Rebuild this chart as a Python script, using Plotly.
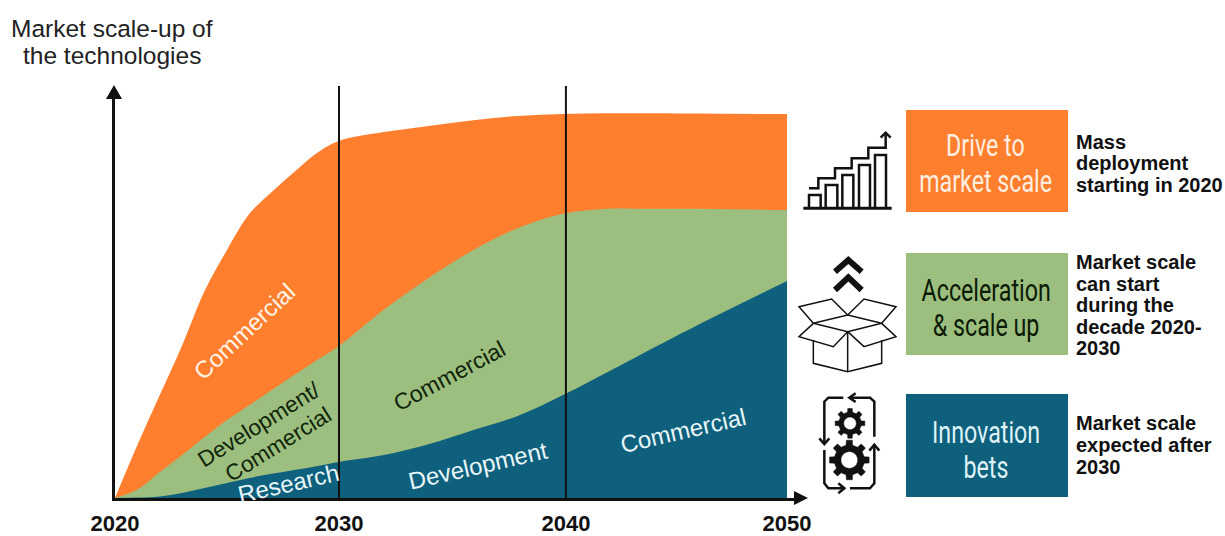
import math
import plotly.graph_objects as go

W, H = 1225, 536
years = [2020, 2021, 2022, 2023, 2024, 2025, 2026, 2027, 2028, 2029, 2030, 2032, 2034, 2036, 2038, 2040, 2042, 2044, 2046, 2050]
top_curve = [0, 13.8, 26.8, 39.8, 53.9, 64.6, 74, 79.7, 84.9, 89.8, 93, 95.3, 96.9, 98.4, 99.5, 100, 100.2, 100.2, 100.1, 100]
middle_curve = [0, 2.2, 6.8, 11.2, 15.9, 20.3, 24.2, 28.1, 32, 35.9, 39.6, 49, 57.3, 64.6, 70.3, 74, 75.3, 75.3, 75.3, 75]
bottom_curve = [0, 0.1, 0.4, 1.3, 2.6, 3.9, 5.2, 6.3, 7.3, 8.3, 9.4, 11.2, 14, 17.7, 21.4, 26.8, 32.8, 39, 45, 56.5]
tick_years = [2020, 2030, 2040, 2050]
tick_pos = [2020, 2030, 2040.13, 2050]
marker_years = [2030, 2040.13]

ORANGE, GREEN, BLUE = "#FF7F2E", "#9CBE7E", "#0E607C"
FONT = "Liberation Sans"
BOX_FONT = "Roboto"

fig = go.Figure()
for vals, col, name in [(top_curve, ORANGE, "Drive to market scale"),
                        (middle_curve, GREEN, "Acceleration & scale up"),
                        (bottom_curve, BLUE, "Innovation bets")]:
    fig.add_trace(go.Scatter(x=years, y=vals, mode="lines", fill="tozeroy", name=name,
                             fillcolor=col, line=dict(color=col, width=0, shape="spline", smoothing=1.0)))

def px(x): return x / W
def py(y): return 1 - y / H
def path(pts, close=False):
    return "M" + " L".join(f"{px(x):.5f},{py(y):.5f}" for x, y in pts) + (" Z" if close else "")
shapes = []
def add(pts, close=False, fill=None, lw=2, color="#111"):
    shapes.append(dict(type="path", xref="paper", yref="paper", path=path(pts, close),
                       fillcolor=fill if fill else "rgba(0,0,0,0)",
                       line=dict(color=color, width=lw), layer="above"))
def z(x, y): return (790 + x / 3, 100 + y / 3)
def zadd(pts, close=False, fill=None, lw=2, color="#111"):
    add([z(*p) for p in pts], close, fill, lw, color)

for yr in marker_years:
    shapes.append(dict(type="line", xref="x", yref="paper", x0=yr, x1=yr, y0=py(498), y1=py(86),
                       line=dict(color="#111", width=2), layer="above"))
add([(114, 85), (106, 99), (122, 99)], True, "#111", 0)
add([(808, 498), (794, 491), (794, 505)], True, "#111", 0)

for (y0, y1), col in zip([(110, 212), (253, 355), (394, 497)], [ORANGE, GREEN, BLUE]):
    add([(906, y0), (1068, y0), (1068, y1), (906, y1)], True, col, 0)

zadd([(40, 325), (305, 325)], lw=3)
for a, b, t in [(57, 92, 285), (107, 142, 255), (157, 190, 225), (207, 240, 195), (255, 288, 165)]:
    zadd([(a, 325), (a, t), (b, t), (b, 325)], lw=2.5)
zadd([(57, 265), (85, 265), (85, 235), (135, 235), (135, 205), (185, 205), (185, 175), (235, 175),
      (235, 143), (287, 143), (287, 100)], lw=2.5)
zadd([(272, 113), (287, 98), (302, 113)], lw=2.5)

zadd([(70, 720), (70, 790), (173, 815), (275, 790), (275, 720)], lw=1.5)
zadd([(173, 695), (173, 815)], lw=1.5)
zadd([(70, 670), (173, 645), (275, 670), (173, 695)], True, lw=1.5)
zadd([(173, 695), (130, 740), (27, 710), (70, 670)], lw=1.5)
zadd([(173, 695), (222, 740), (318, 710), (275, 670)], lw=1.5)
zadd([(70, 670), (27, 620), (125, 597), (173, 645)], lw=1.5)
zadd([(173, 645), (222, 597), (318, 620), (275, 670)], lw=1.5)
zadd([(135, 515), (175, 480), (215, 515)], lw=6)
zadd([(135, 570), (175, 532), (215, 570)], lw=6)

def gear(cx, cy, r, teeth=8):
    pts = []
    for i in range(teeth):
        a = 2 * math.pi * i / teeth
        s = math.pi / teeth
        for da, rr in [(-s * 0.55, r * 0.76), (-s * 0.38, r), (s * 0.38, r), (s * 0.55, r * 0.76)]:
            pts.append((cx + rr * math.cos(a + da), cy + rr * math.sin(a + da)))
    zadd(pts, True, "#111", 0.5)
    zadd([(cx + r * 0.42 * math.cos(2 * math.pi * k / 24), cy + r * 0.42 * math.sin(2 * math.pi * k / 24))
          for k in range(24)], True, "#fff", 0.5)
gear(180, 970, 45)
gear(178, 1080, 60)
zadd([(160, 893), (115, 893), (103, 905), (103, 1030)], lw=2.5)
zadd([(88, 1015), (103, 1032), (118, 1015)], lw=2.5)
zadd([(180, 893), (240, 893), (253, 905), (253, 1010)], lw=2.5)
zadd([(197, 880), (178, 893), (197, 906)], lw=2.5)
zadd([(253, 1036), (253, 1150), (240, 1165), (180, 1165)], lw=2.5)
zadd([(238, 1052), (253, 1034), (268, 1052)], lw=2.5)
zadd([(103, 1050), (103, 1150), (115, 1165), (160, 1165)], lw=2.5)
zadd([(145, 1150), (163, 1165), (145, 1180)], lw=2.5)

anns = []
def text(x, y, s, size, color="#111", family=FONT, angle=0, anchor="center", bold=False):
    anns.append(dict(xref="paper", yref="paper", x=px(x), y=py(y), text=f"<b>{s}</b>" if bold else s,
                     showarrow=False, textangle=angle,
                     font=dict(size=size, color=color, family=family),
                     xanchor=anchor, yanchor="middle"))

text(112, 29, "Market scale-up of", 24.5, "#222")
text(112, 56, "the technologies", 24.5, "#222")
text(244, 331, "Commercial", 24, "#FFF3E6", angle=-43)
text(259, 424, "Development/", 22.5, "#10240A", angle=-32)
text(278, 444, "Commercial", 22.5, "#10240A", angle=-32)
text(288, 483, "Research", 24, "#E8F6FA", angle=-13)
text(478, 465, "Development", 24, "#E8F6FA", angle=-13)
text(449, 376, "Commercial", 23, "#10240A", angle=-28)
text(683, 430, "Commercial", 24, "#E8F6FA", angle=-13)

for yy, s, c in [(146, "Drive to", "#FDEEE0"), (181, "market scale", "#FDEEE0"),
                 (290, "Acceleration", "#0B1A05"), (325, "& scale up", "#0B1A05"),
                 (432, "Innovation", "#DDF3F8"), (467, "bets", "#DDF3F8")]:
    text(985.5, yy, s, 31, c, BOX_FONT)

for yy, s in [(142, "Mass"), (163, "deployment"), (185, "starting in 2020"),
              (262, "Market scale"), (284, "can start"), (305, "during the"), (327, "decade 2020-"), (348, "2030"),
              (423, "Market scale"), (445, "expected after"), (467, "2030")]:
    text(1074, yy, s, 20, "#111", anchor="left", bold=True)

x_scale, y_scale = 22.4, 3.84
x_right, y_top = 800, 92
fig.update_layout(
    width=W, height=H, margin=dict(l=0, r=0, t=0, b=0, autoexpand=False), showlegend=False,
    paper_bgcolor="white", plot_bgcolor="white", shapes=shapes, annotations=anns,
    xaxis=dict(domain=[px(115), px(x_right)], range=[2020, 2020 + (x_right - 115) / x_scale],
               tickmode="array", tickvals=tick_pos, ticktext=[str(t) for t in tick_years],
               tickfont=dict(size=22, family=FONT, color="#111", weight="bold"), ticks="", showgrid=False,
               zeroline=False, showline=True, linecolor="#111", linewidth=2.5, ticklabelstandoff=4),
    yaxis=dict(domain=[py(498), py(y_top)], range=[0, (498 - y_top) / y_scale], showticklabels=False,
               ticks="", showgrid=False, zeroline=False, showline=True, linecolor="#111", linewidth=2.5),
)
squeeze = """
document.body.style.margin='0';document.body.style.overflow='hidden';
var names=['Drive to','market scale','Acceleration','& scale up','Innovation','bets'];
document.querySelectorAll('text.annotation-text').forEach(function(t){
  if(names.indexOf(t.textContent)>=0){
    var b=t.getBBox(),c=b.x+b.width/2;
    t.setAttribute('transform','translate('+c+',0) scale(0.75,1) translate('+(-c)+',0)');
  }
});
"""
fig.write_html("out.html", config=dict(displayModeBar=False), post_script=squeeze)
